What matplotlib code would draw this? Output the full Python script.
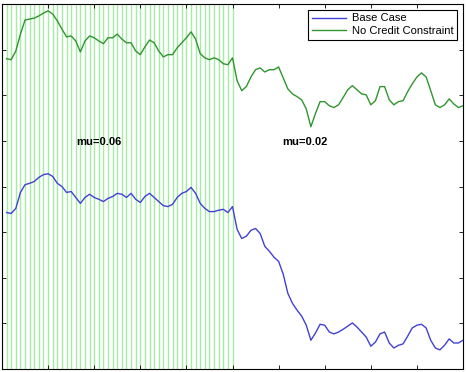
import numpy as np
import matplotlib
matplotlib.use('Agg')
import matplotlib.pyplot as plt

plt.rcParams['font.family'] = ['Liberation Sans', 'DejaVu Sans']

# ----- Data -----
periods = np.arange(1, 101)

base_case = [
    3.43, 3.41, 3.52, 3.87, 4.04, 4.07, 4.11, 4.20, 4.26, 4.28,
    4.22, 4.07, 4.00, 3.87, 3.89, 3.76, 3.63, 3.76, 3.83, 3.76,
    3.72, 3.67, 3.74, 3.78, 3.85, 3.83, 3.76, 3.85, 3.72, 3.65,
    3.78, 3.85, 3.76, 3.67, 3.58, 3.56, 3.61, 3.76, 3.85, 3.89,
    3.98, 3.85, 3.63, 3.52, 3.45, 3.45, 3.48, 3.50, 3.43, 3.56,
    3.06, 2.86, 2.91, 3.04, 3.08, 2.97, 2.69, 2.58, 2.45, 2.36,
    2.08, 1.66, 1.44, 1.29, 1.16, 0.96, 0.63, 0.79, 0.98, 0.96,
    0.81, 0.77, 0.81, 0.87, 0.94, 1.01, 0.92, 0.81, 0.70, 0.50,
    0.59, 0.77, 0.81, 0.57, 0.46, 0.52, 0.55, 0.72, 0.90, 0.96,
    0.98, 0.90, 0.63, 0.46, 0.42, 0.52, 0.66, 0.57, 0.57, 0.63,
]

no_credit_constraint = [
    6.80, 6.78, 6.97, 7.34, 7.65, 7.67, 7.69, 7.74, 7.80, 7.85,
    7.78, 7.63, 7.45, 7.28, 7.30, 7.19, 6.95, 7.19, 7.30, 7.26,
    7.19, 7.13, 7.26, 7.26, 7.34, 7.23, 7.15, 7.15, 6.97, 6.89,
    7.06, 7.21, 7.15, 6.97, 6.84, 6.89, 6.89, 7.04, 7.15, 7.26,
    7.39, 7.23, 6.91, 6.82, 6.78, 6.82, 6.78, 6.69, 6.67, 6.82,
    6.32, 6.10, 6.19, 6.40, 6.56, 6.60, 6.51, 6.56, 6.56, 6.62,
    6.38, 6.14, 6.03, 5.97, 5.90, 5.70, 5.31, 5.60, 5.86, 5.86,
    5.77, 5.73, 5.79, 5.95, 6.12, 6.21, 6.12, 6.03, 6.01, 5.79,
    5.88, 6.19, 6.19, 5.90, 5.79, 5.86, 5.88, 6.08, 6.25, 6.40,
    6.49, 6.40, 6.10, 5.79, 5.73, 5.79, 5.92, 5.81, 5.73, 5.77,
]

high_mu_periods = np.arange(1, 51)
regime_labels = ['mu=0.06', 'mu=0.02']
regime_label_x = [16, 60.7]

# ----- Plot -----
fig = plt.figure(figsize=(4.66, 3.72), dpi=100)
ax = fig.add_axes([2 / 466, 3 / 372, 461 / 466, 365 / 372])

ax.vlines(high_mu_periods, 0, 8, color='#a6eca6', lw=1, zorder=1)

ax.plot(periods, base_case, color='#4141d6', lw=1, label='Base Case', zorder=3)
ax.plot(periods, no_credit_constraint, color='#2f962f', lw=1,
        label='No Credit Constraint', zorder=3)

for lbl, xpos in zip(regime_labels, regime_label_x):
    ax.text(xpos, 4.98, lbl, fontsize=8, fontweight='bold', ha='left', va='center')

ax.set_xlim(0, 100)
ax.set_ylim(0, 8)
ax.set_xticks(np.arange(0, 101, 10))
ax.set_yticks(np.arange(0, 9, 1))
ax.set_xticklabels([])
ax.set_yticklabels([])
ax.tick_params(direction='in', length=3, width=0.6, top=True, right=True)
for sp in ax.spines.values():
    sp.set_linewidth(0.8)

leg = ax.legend(loc='upper right', fontsize=8, fancybox=False, framealpha=1,
                edgecolor='black', handlelength=3.1, handletextpad=0.5,
                borderaxespad=0.5, labelspacing=0.2, borderpad=0.35)
leg.get_frame().set_linewidth(0.8)

fig.savefig('out.png', dpi=100)
